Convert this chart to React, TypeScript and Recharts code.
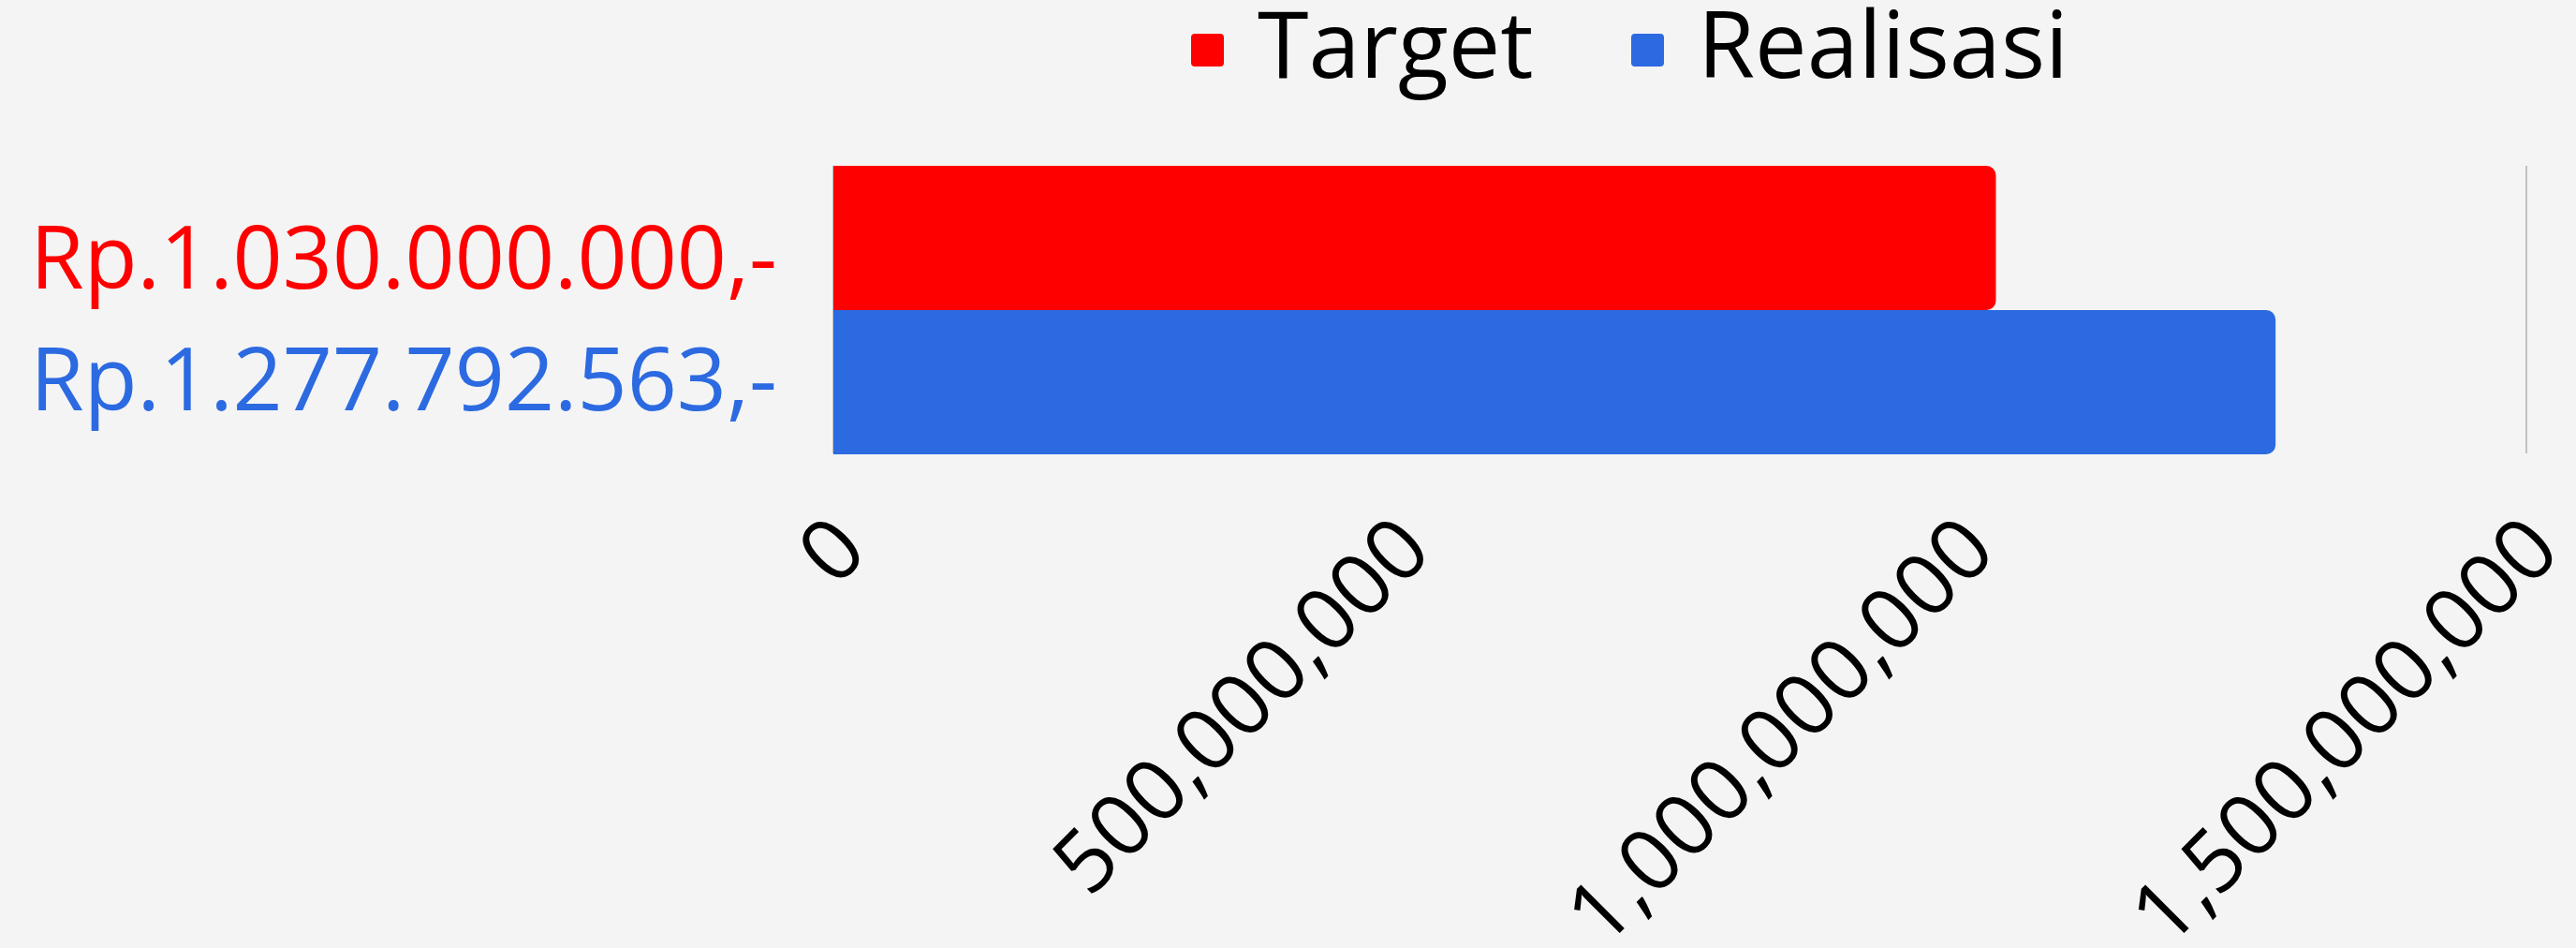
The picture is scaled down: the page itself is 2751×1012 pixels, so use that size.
import { Bar, BarChart, XAxis, YAxis, CartesianGrid, Legend } from 'recharts';

// data
const categories = ['Total'];
const targetValues = [1030000000];
const realisasiValues = [1277792563];
const xTicks = [0, 500000000, 1000000000, 1500000000];

const series = [
  { key: 'target', name: 'Target', color: '#ff0000', values: targetValues },
  { key: 'realisasi', name: 'Realisasi', color: '#2c6ae1', values: realisasiValues },
];

const FONT = "'Open Sans', sans-serif";

const chartData = categories.map((name, i) => ({
  name,
  target: targetValues[i],
  realisasi: realisasiValues[i],
}));

const formatRp = (v: number) => 'Rp.' + String(v).replace(/\B(?=(\d{3})+(?!\d))/g, '.') + ',-';
const formatTick = (v: number) => String(v).replace(/\B(?=(\d{3})+(?!\d))/g, ',');

// left side: the two amounts, one line per series
const LeftTick = ({ x, y, index }: any) => {
  const offsets = [-23, 107];
  return (
    <g>
      {series.map((s, i) => (
        <text
          key={s.key}
          x={x}
          y={y}
          dy={offsets[i]}
          textAnchor="end"
          fill={s.color}
          fontSize={93}
          fontFamily={FONT}
        >
          {formatRp(s.values[index ?? 0])}
        </text>
      ))}
    </g>
  );
};

const BottomTick = ({ x, y, payload }: any) => (
  <g transform={`translate(${x + 16},${y})`}>
    <text
      transform="rotate(-45)"
      textAnchor="end"
      dy="0.357em"
      fill="#000"
      fontSize={92}
      fontFamily={FONT}
    >
      {formatTick(payload.value)}
    </text>
  </g>
);

// legend drawn as svg so the text boxes stay inside the picture
const legendItemX = [0, 470];
const LegendContent = () => (
  <svg width={1000} height={110} style={{ display: 'block' }}>
    {series.map((s, i) => (
      <g key={s.key} transform={`translate(${legendItemX[i]},0)`}>
        <rect x={0} y={36} width={35} height={35} rx={4} fill={s.color} />
        <text x={71} y={83} fontSize={99} fontFamily={FONT} fill="#000">
          {s.name}
        </text>
      </g>
    ))}
  </svg>
);

export default function App() {
  return (
    <div style={{ width: 2751, height: 1012, background: '#f4f4f4', overflow: 'hidden' }}>
      <style>{`body{margin:0;background:#f4f4f4}`}</style>
      <BarChart
        width={2751}
        height={1012}
        data={chartData}
        layout="vertical"
        barCategoryGap={0}
        barGap={0}
        margin={{ top: 177, right: 53, bottom: 0, left: 0 }}
      >
        <CartesianGrid horizontal={false} stroke="#c0c0c0" strokeWidth={2} />
        <XAxis
          type="number"
          domain={[0, 1500000000]}
          ticks={xTicks}
          axisLine={false}
          tickLine={false}
          tickSize={0}
          tickMargin={84}
          height={528}
          interval={0}
          tick={<BottomTick />}
        />
        <YAxis
          type="category"
          dataKey="name"
          width={890}
          axisLine={false}
          tickLine={false}
          tickSize={0}
          tickMargin={60}
          tick={<LeftTick />}
        />
        <Legend
          verticalAlign="middle"
          layout="horizontal"
          content={<LegendContent />}
          wrapperStyle={{ top: 0, left: 1272, width: 'auto' }}
        />
        {series.map((s) => (
          <Bar
            key={s.key}
            dataKey={s.key}
            name={s.name}
            fill={s.color}
            radius={[0, 10, 10, 0]}
            isAnimationActive={false}
          />
        ))}
      </BarChart>
    </div>
  );
}
